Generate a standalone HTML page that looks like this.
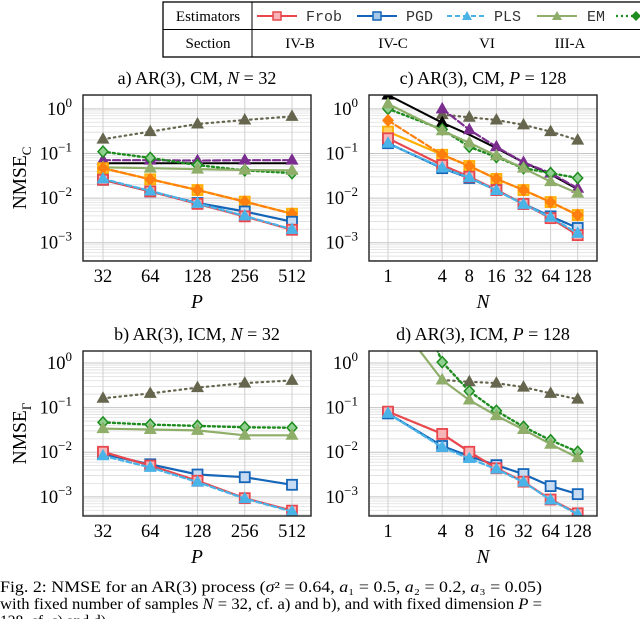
<!DOCTYPE html>
<html><head><meta charset="utf-8">
<style>
html,body{margin:0;padding:0;background:#fff;}
svg{display:block;font-family:"Liberation Serif",serif;}
.mono{font-family:"Liberation Mono",monospace;}
</style></head>
<body>
<svg id="fig" width="640" height="619" viewBox="0 0 640 619" xmlns="http://www.w3.org/2000/svg">
  <g id="legend">
    <rect x="163" y="2" width="480" height="55" fill="#fff" stroke="#000" stroke-width="1.3"/>
    <line x1="163" y1="29.5" x2="640" y2="29.5" stroke="#000" stroke-width="1"/>
    <line x1="252" y1="2" x2="252" y2="57" stroke="#000" stroke-width="1"/>
    <text x="208" y="21" font-size="15" text-anchor="middle">Estimators</text>
    <text x="208" y="48" font-size="15" text-anchor="middle">Section</text>
    <g>
      <line x1="257" y1="16" x2="297" y2="16" stroke="#e8474d" stroke-width="2"/>
      <rect x="273" y="12" width="8" height="8" fill="#f7b4b6" stroke="#e8474d" stroke-width="1.5"/>
      <text x="306" y="21" font-size="15" class="mono" fill="#333">Frob</text>
      <text x="300" y="48" font-size="15" text-anchor="middle">IV-B</text>
    </g>
    <g>
      <line x1="357" y1="16" x2="397" y2="16" stroke="#1565b8" stroke-width="2"/>
      <rect x="373" y="12" width="8" height="8" fill="#a8c8ea" stroke="#1565b8" stroke-width="1.5"/>
      <text x="406" y="21" font-size="15" class="mono" fill="#333">PGD</text>
      <text x="393" y="48" font-size="15" text-anchor="middle">IV-C</text>
    </g>
    <g>
      <line x1="447" y1="16" x2="487" y2="16" stroke="#4ab3e8" stroke-width="2" stroke-dasharray="5,3"/>
      <polygon points="467,11 472,20 462,20" fill="#4ab3e8"/>
      <text x="494" y="21" font-size="15" class="mono" fill="#333">PLS</text>
      <text x="487" y="48" font-size="15" text-anchor="middle">VI</text>
    </g>
    <g>
      <line x1="537" y1="16" x2="577" y2="16" stroke="#8fae6a" stroke-width="2"/>
      <polygon points="557,11 562,20 552,20" fill="#8fae6a"/>
      <text x="587" y="21" font-size="15" class="mono" fill="#333">EM</text>
      <text x="570" y="48" font-size="15" text-anchor="middle">III-A</text>
    </g>
    <g>
      <line x1="616" y1="16" x2="640" y2="16" stroke="#1e8c1e" stroke-width="2.2" stroke-dasharray="2,3"/>
      <polygon points="636,11 641,16 636,21 631,16" fill="#1e8c1e"/>
    </g>
  </g>
  <g id="plots"></g>
  <g id="caption" font-size="15.5">
    <text x="0" y="592" textLength="542" lengthAdjust="spacingAndGlyphs">Fig. 2: NMSE for an AR(3) process (<tspan font-style="italic">σ</tspan>² = 0.64, <tspan font-style="italic">a</tspan>₁ = 0.5, <tspan font-style="italic">a</tspan>₂ = 0.2, <tspan font-style="italic">a</tspan>₃ = 0.05)</text>
    <text x="0" y="609" textLength="542" lengthAdjust="spacingAndGlyphs">with fixed number of samples <tspan font-style="italic">N</tspan> = 32, cf. a) and b), and with fixed dimension <tspan font-style="italic">P</tspan> =</text>
    <text x="0" y="626">128, cf. c) and d).</text>
  </g>
</svg>
<script>
// ---- data (log10 NMSE) ----
const pTicks = [32, 64, 128, 256, 512];
const nTicks = [1, 4, 8, 16, 32, 64, 128];
const nAll = [1, 4, 8, 16, 32, 64, 128];
const nFrom4 = [4, 8, 16, 32, 64, 128];

// panel a (P on x, N=32)
const aGray   = [-0.68, -0.51, -0.34, -0.25, -0.17];
const aGreen  = [-0.96, -1.10, -1.26, -1.38, -1.44];
const aPurple = [-1.15, -1.15, -1.16, -1.15, -1.15];
const aBlack  = [-1.22, -1.22, -1.22, -1.22, -1.22];
const aEM     = [-1.31, -1.33, -1.35, -1.37, -1.38];
const aOrange = [-1.33, -1.58, -1.82, -2.08, -2.35];
const aOrangeD= [-1.33, -1.58, -1.82, -2.08, -2.35];
const aPGD    = [-1.59, -1.85, -2.11, -2.30, -2.53];
const aFrob   = [-1.59, -1.85, -2.13, -2.41, -2.71];
const aPLS    = [-1.57, -1.84, -2.12, -2.40, -2.70];

// panel c (N on x, P=128)
const cBlack  = [0.31, -0.31, -0.58, -0.88, -1.20, -1.47, -1.80];
const cPurple = [0.00, -0.47, -0.85, -1.20, -1.44, -1.78];
const cGray   = [-0.13, -0.19, -0.25, -0.36, -0.51, -0.70];
const cGreen  = [0.00, -0.46, -0.85, -1.08, -1.33, -1.44, -1.55];
const cEM     = [0.11, -0.49, -0.76, -1.05, -1.33, -1.63, -1.89];
const cOrangeD= [-0.26, -1.03, -1.28, -1.57, -1.82, -2.09, -2.38];
const cOrange = [-0.51, -1.03, -1.28, -1.57, -1.82, -2.09, -2.38];
const cFrob   = [-0.66, -1.26, -1.52, -1.82, -2.13, -2.45, -2.83];
const cPGD    = [-0.77, -1.33, -1.55, -1.82, -2.13, -2.41, -2.67];
const cPLS    = [-0.77, -1.32, -1.54, -1.83, -2.14, -2.43, -2.79];

// panel b (P on x, N=32)
const bGray  = [-0.79, -0.68, -0.55, -0.45, -0.39];
const bGreen = [-1.33, -1.38, -1.41, -1.44, -1.45];
const bEM    = [-1.47, -1.49, -1.51, -1.62, -1.62];
const bFrob  = [-1.99, -2.30, -2.64, -3.03, -3.31];
const bPGD   = [-2.04, -2.27, -2.50, -2.56, -2.73];
const bPLS   = [-2.08, -2.34, -2.67, -3.04, -3.33];

// panel d (N on x, P=128)
const dEM    = [1.20, -0.38, -0.83, -1.18, -1.49, -1.82, -2.12];
const dGreen = [3.00, 0.02, -0.63, -1.07, -1.43, -1.73, -1.99];
const dGray  = [-0.38, -0.42, -0.45, -0.54, -0.68, -0.81];
const dFrob  = [-1.09, -1.59, -1.99, -2.36, -2.66, -3.06, -3.37];
const dPGD   = [-1.13, -1.86, -2.09, -2.29, -2.49, -2.76, -2.94];
const dPLS   = [-1.13, -1.89, -2.14, -2.38, -2.67, -3.07, -3.39];

const yDecades = [0, -1, -2, -3];

const NS = 'http://www.w3.org/2000/svg';
const root = document.getElementById('plots');
function mk(tag, attrs, parent) {
  const e = document.createElementNS(NS, tag);
  for (const k in attrs) e.setAttribute(k, attrs[k]);
  (parent || root).appendChild(e);
  return e;
}
const ST = {
  gray:   {c:'#66664e', w:2.2, dash:'1.5,4', m:'tri', fill:'#66664e'},
  green:  {c:'#1e8c1e', w:2.4, dash:'2,3', m:'dia', fill:'#8fcf8f'},
  purple: {c:'#7a2d8e', w:2.2, dash:'7,3', m:'tri', fill:'#7a2d8e'},
  black:  {c:'#000', w:2, dash:null, m:'none', fill:'#000'},
  em:     {c:'#8fae6a', w:2.2, dash:null, m:'tri', fill:'#8fae6a'},
  orange: {c:'#ffae00', w:2.2, dash:null, m:'sq', fill:'#ffcf60'},
  orangeD:{c:'#ff7f0e', w:2.2, dash:'6,3', m:'dia', fill:'#ff7f0e'},
  pgd:    {c:'#1565b8', w:2.2, dash:null, m:'sq', fill:'#c7dcf2'},
  frob:   {c:'#e8474d', w:2.2, dash:null, m:'sq', fill:'#f7b4b6'},
  pls:    {c:'#4ab3e8', w:2.2, dash:'5,3', m:'tri', fill:'#4ab3e8'},
  blackTri:{c:'#000', w:2, dash:null, m:'tri', fill:'#000'}
};

function panel(cfg) {
  const g = mk('g', {});
  
  
  const L=cfg.x0, R=cfg.x1, T=cfg.y0, B=cfg.y1;
  const yTop=cfg.ymax, yBot=cfg.ymin;
  const Y = v => T + (yTop - v) / (yTop - yBot) * (B - T);
  const X = cfg.X;
  const cid = 'clip-' + cfg.name;
  const cp = mk('clipPath', {id: cid}, g);
  mk('rect', {x:L, y:T, width:R-L, height:B-T}, cp);
  const grid = mk('g', {}, g);
  
  
  for (let d = -4; d <= 1; d++) {
    for (let k = 2; k <= 9; k++) {
      const v = d + Math.log10(k);
      if (v < yBot || v > yTop) continue;
      mk('line', {x1:L, x2:R, y1:Y(v), y2:Y(v), stroke:'#dedede', 'stroke-width':0.8}, grid);
    }
  }
  yDecades.forEach(d => {
    mk('line', {x1:L, x2:R, y1:Y(d), y2:Y(d), stroke:'#c4c4c4', 'stroke-width':1}, grid);
  });
  cfg.ticks.forEach(t => {
    mk('line', {x1:X(t), x2:X(t), y1:T, y2:B, stroke:'#d0d0d0', 'stroke-width':1}, grid);
  });
  const sg = mk('g', {'clip-path':'url(#'+cid+')'}, g);
  cfg.series.forEach(s => {
    const st = ST[s.style];
    const sgrp = mk('g', {}, sg);
    
    
    const pts = s.x.map((xv,i) => [X(xv), Y(s.y[i])]);
    const a = {points: pts.map(p=>p[0].toFixed(1)+','+p[1].toFixed(1)).join(' '), fill:'none', stroke:st.c, 'stroke-width':st.w, 'stroke-linecap':'round'};
    if (st.dash) a['stroke-dasharray'] = st.dash;
    mk('polyline', a, sgrp);
    const mset = s.markIdx || pts.map((_,i)=>i);
    mset.forEach(i => {
      const [px,py] = pts[i];
      let m;
      if (st.m === 'sq') m = mk('rect', {x:px-5, y:py-5, width:10, height:10, fill:st.fill, stroke:st.c, 'stroke-width':1.8}, sgrp);
      else if (st.m === 'tri') m = mk('polygon', {points:`${px},${py-7} ${px+6.5},${py+4.5} ${px-6.5},${py+4.5}`, fill:st.fill}, sgrp);
      else if (st.m === 'dia') m = mk('polygon', {points:`${px},${py-5.5} ${px+5},${py} ${px},${py+5.5} ${px-5},${py}`, fill:st.fill, stroke:st.c, 'stroke-width':1.5}, sgrp);
      else return;
      
      
    });
  });
  mk('rect', {x:L, y:T, width:R-L, height:B-T, fill:'none', stroke:'#222', 'stroke-width':1.4}, g);
  yDecades.forEach(d => {
    const t = mk('text', {x:L-11, y:Y(d)+6, 'font-size':18.5, 'text-anchor':'end'}, g);
    
    
    t.textContent = '10';
    const sup = mk('tspan', {dy:-8, 'font-size':13}, t);
    sup.textContent = d === 0 ? '0' : '−' + (-d);
  });
  cfg.ticks.forEach(tv => {
    const t = mk('text', {x:X(tv), y:B+21, 'font-size':18.5, 'text-anchor':'middle'}, g);
    
    
    t.textContent = String(tv);
  });
  const xt = mk('text', {x:(L+R)/2, y:B+47, 'font-size':19.5, 'text-anchor':'middle', 'font-style':'italic'}, g);
  
  
  xt.textContent = cfg.xtitle;
  const tt = mk('text', {x:(L+R)/2, y:T-11, 'font-size':18, 'text-anchor':'middle'}, g);
  
  
  tt.textContent = cfg.title;
  const ti = mk('tspan', {'font-style':'italic'}, tt);
  ti.textContent = cfg.titleVar;
  const tr = mk('tspan', {}, tt);
  tr.textContent = ' = ' + cfg.titleVal;
  if (cfg.ytitle) {
    const yt = mk('text', {x:0, y:0, 'font-size':19.5, 'text-anchor':'middle', transform:`translate(26,${(T+B)/2}) rotate(-90)`}, g);
    
    
    yt.textContent = 'NMSE';
    const sb = mk('tspan', {dy:5, 'font-size':13}, yt);
    sb.textContent = cfg.ytitle;
  }
}
const XP = (L) => v => L + 20 + Math.log2(v/32) * 47.25;
const XN = (L) => v => L + 19 + Math.log2(v) * 27.1;

panel({name:'panel-a', x0:83, x1:311, y0:95, y1:261, ymax:0.31, ymin:-3.41, X:XP(83), ticks:pTicks,
  xtitle:'P', title:'a) AR(3), CM, ', titleVar:'N', titleVal:'32', ytitle:'C',
  series:[
    {id:'gray', style:'gray', x:pTicks, y:aGray},
    {id:'black', style:'black', x:pTicks, y:aBlack},
    {id:'purple', style:'purple', x:pTicks, y:aPurple},
    {id:'green-dotted', style:'green', x:pTicks, y:aGreen},
    {id:'em', style:'em', x:pTicks, y:aEM},
    {id:'orange', style:'orange', x:pTicks, y:aOrange},
    {id:'orange-dashed', style:'orangeD', x:pTicks, y:aOrangeD},
    {id:'pgd', style:'pgd', x:pTicks, y:aPGD},
    {id:'frob', style:'frob', x:pTicks, y:aFrob},
    {id:'pls', style:'pls', x:pTicks, y:aPLS}
  ]});
panel({name:'panel-c', x0:369, x1:597, y0:95, y1:261, ymax:0.31, ymin:-3.41, X:XN(369), ticks:nTicks,
  xtitle:'N', title:'c) AR(3), CM, ', titleVar:'P', titleVal:'128',
  series:[
    {id:'gray', style:'gray', x:nFrom4, y:cGray},
    {id:'black', style:'blackTri', x:nAll, y:cBlack, markIdx:[0,1]},
    {id:'purple', style:'purple', x:nFrom4, y:cPurple},
    {id:'green-dotted', style:'green', x:nAll, y:cGreen},
    {id:'em', style:'em', x:nAll, y:cEM},
    {id:'orange', style:'orange', x:nAll, y:cOrange},
    {id:'orange-dashed', style:'orangeD', x:nAll, y:cOrangeD},
    {id:'pgd', style:'pgd', x:nAll, y:cPGD},
    {id:'frob', style:'frob', x:nAll, y:cFrob},
    {id:'pls', style:'pls', x:nAll, y:cPLS}
  ]});
panel({name:'panel-b', x0:83, x1:311, y0:351, y1:516, ymax:0.27, ymin:-3.43, X:XP(83), ticks:pTicks,
  xtitle:'P', title:'b) AR(3), ICM, ', titleVar:'N', titleVal:'32', ytitle:'Γ',
  series:[
    {id:'gray', style:'gray', x:pTicks, y:bGray},
    {id:'green-dotted', style:'green', x:pTicks, y:bGreen},
    {id:'em', style:'em', x:pTicks, y:bEM},
    {id:'pgd', style:'pgd', x:pTicks, y:bPGD},
    {id:'frob', style:'frob', x:pTicks, y:bFrob},
    {id:'pls', style:'pls', x:pTicks, y:bPLS}
  ]});
panel({name:'panel-d', x0:369, x1:597, y0:351, y1:516, ymax:0.27, ymin:-3.43, X:XN(369), ticks:nTicks,
  xtitle:'N', title:'d) AR(3), ICM, ', titleVar:'P', titleVal:'128',
  series:[
    {id:'gray', style:'gray', x:nFrom4, y:dGray},
    {id:'green-dotted', style:'green', x:nAll, y:dGreen, markIdx:[1,2,3,4,5,6]},
    {id:'em', style:'em', x:nAll, y:dEM, markIdx:[1,2,3,4,5,6]},
    {id:'pgd', style:'pgd', x:nAll, y:dPGD},
    {id:'frob', style:'frob', x:nAll, y:dFrob},
    {id:'pls', style:'pls', x:nAll, y:dPLS}
  ]});
</script>
</body></html>
